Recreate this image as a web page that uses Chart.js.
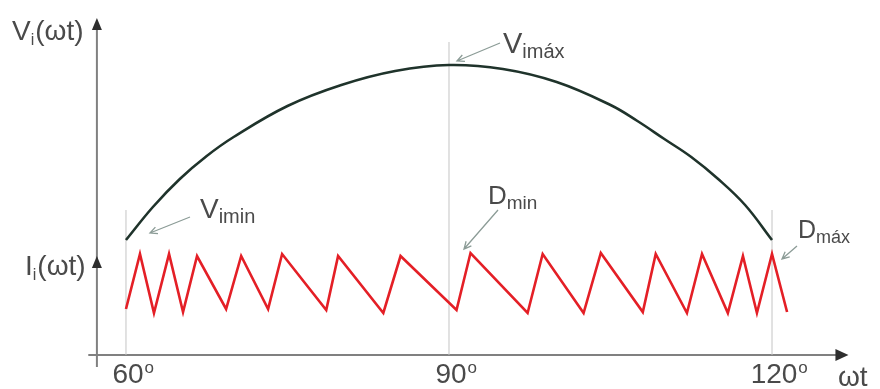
<!DOCTYPE html>
<html>
<head>
<meta charset="utf-8">
<script src="https://cdn.jsdelivr.net/npm/chart.js@4.4.1/dist/chart.umd.min.js"></script>
<style>
  html, body { margin: 0; padding: 0; background: #fff; }
  canvas { display: block; }
</style>
</head>
<body>
<canvas id="chart" width="880" height="389"></canvas>
<script>
// ωt in degrees, amplitudes in arbitrary units (0 = ωt axis)
const curveDeg = [60, 62.5, 65, 67.5, 70, 75, 80, 85, 90, 95, 100, 105, 107.5, 110, 112.5, 115, 117.5, 120];
const curveV   = [11.5, 14.8, 17.6, 19.9, 21.8, 24.9, 27.0, 28.4, 29.0, 28.6, 27.3, 25.0, 23.4, 21.6, 19.8, 17.6, 15.0, 11.5];

const sawDeg = [60, 61.3, 62.6, 64.0, 65.3, 66.6, 69.3, 70.7, 73.2, 74.5, 78.6, 79.7, 83.9, 85.5, 90.7, 92.0,
                97.3, 98.7, 102.5, 104.1, 108.0, 109.2, 112.1, 113.5, 115.9, 117.3, 118.6, 120.0, 121.4];
const sawI   = [4.6, 10.1, 4.2, 10.1, 4.3, 9.9, 4.6, 9.9, 4.6, 10.1, 4.5, 9.9, 4.2, 9.9, 4.5, 10.2,
                4.2, 10.1, 4.2, 10.2, 4.3, 10.1, 4.2, 10.1, 4.2, 9.9, 4.2, 10.1, 4.3];

const tickDeg    = [60, 90, 120];
const tickLabels = ['60', '90', '120'];
const guideTop   = [14.5, 31.3, 14.5];

const FONT = '"Liberation Sans", Arial, sans-serif';
const TEXT = '#4a4a4a';
const AXIS = '#808080';
const CALLOUT = '#8c9c97';

const pts = (xs, ys) => xs.map((x, i) => ({ x, y: ys[i] }));

const guides = tickDeg.map((d, i) => ({
  data: [{ x: d, y: 0 }, { x: d, y: guideTop[i] }],
  borderColor: '#c4c4c4',
  borderWidth: 1,
  pointRadius: 0,
  order: 3
}));

function subLabel(ctx, main, sub, rest, x, y, size, subSize) {
  ctx.font = `${size}px ${FONT}`;
  ctx.fillText(main, x, y);
  x += ctx.measureText(main).width;
  ctx.font = `${subSize}px ${FONT}`;
  ctx.fillText(sub, x, y + size * 0.18);
  x += ctx.measureText(sub).width + 1;
  if (rest) {
    ctx.font = `${size}px ${FONT}`;
    ctx.fillText(rest, x, y);
  }
}

function callout(ctx, x1, y1, x2, y2) {
  const a = Math.atan2(y2 - y1, x2 - x1);
  const h = 8;
  ctx.beginPath();
  ctx.moveTo(x1, y1);
  ctx.lineTo(x2, y2);
  ctx.moveTo(x2 - h * Math.cos(a - 0.45), y2 - h * Math.sin(a - 0.45));
  ctx.lineTo(x2, y2);
  ctx.lineTo(x2 - h * Math.cos(a + 0.45), y2 - h * Math.sin(a + 0.45));
  ctx.stroke();
}

function arrowHead(ctx, x, y, dir) {
  ctx.beginPath();
  if (dir === 'up') {
    ctx.moveTo(x, y); ctx.lineTo(x - 5, y + 12); ctx.lineTo(x + 5, y + 12);
  } else {
    ctx.moveTo(x, y); ctx.lineTo(x - 13, y - 6); ctx.lineTo(x - 13, y + 6);
  }
  ctx.closePath();
  ctx.fill();
}

const axesPlugin = {
  id: 'axes',
  beforeDatasetsDraw(chart) {
    const { ctx, scales: { x, y } } = chart;
    const x0 = x.getPixelForValue(57.3);
    const y0 = y.getPixelForValue(0);
    ctx.save();
    ctx.strokeStyle = AXIS;
    ctx.lineWidth = 2;
    ctx.beginPath();
    ctx.moveTo(x.getPixelForValue(56.5), y0);
    ctx.lineTo(x.getPixelForValue(126), y0);
    ctx.moveTo(x0, y.getPixelForValue(-1.2));
    ctx.lineTo(x0, y.getPixelForValue(32.5));
    ctx.stroke();
    ctx.fillStyle = '#2e2e2e';
    arrowHead(ctx, x0, y.getPixelForValue(33.7), 'up');
    arrowHead(ctx, x0, y.getPixelForValue(9.9), 'up');
    arrowHead(ctx, x.getPixelForValue(127.1), y0, 'right');
    ctx.restore();
  },
  afterDraw(chart) {
    const { ctx, scales: { x, y } } = chart;
    ctx.save();
    ctx.fillStyle = TEXT;
    ctx.textBaseline = 'alphabetic';

    // axis titles
    subLabel(ctx, 'V', 'i', '(ωt)', 12, 40, 28, 16);
    subLabel(ctx, 'I', 'i', '(ωt)', 25, 275, 28, 16);
    ctx.font = `28px ${FONT}`;
    ctx.fillText('ωt', 838, 386);

    // ticks
    tickDeg.forEach((d, i) => {
      ctx.font = `28px ${FONT}`;
      const w = ctx.measureText(tickLabels[i]).width;
      const left = x.getPixelForValue(d) - w / 2 + 2;
      ctx.fillText(tickLabels[i], left, 383);
      ctx.font = `17px ${FONT}`;
      ctx.fillText('o', left + w + 1, 373);
    });

    // callouts
    ctx.strokeStyle = CALLOUT;
    ctx.lineWidth = 1.3;
    callout(ctx, 500, 43, x.getPixelForValue(90) + 8, y.getPixelForValue(29.0) - 4);
    callout(ctx, 190, 217, 150, 233);
    callout(ctx, 498, 210, 464, 249);
    callout(ctx, 797, 246, 782, 259);

    ctx.fillStyle = TEXT;
    subLabel(ctx, 'V', 'imáx', null, 503, 53, 29, 20);
    subLabel(ctx, 'V', 'imin', null, 200, 218, 28, 20);
    subLabel(ctx, 'D', 'min', null, 488, 204, 26, 19);
    subLabel(ctx, 'D', 'máx', null, 798, 238, 25, 18);
    ctx.restore();
  }
};

new Chart(document.getElementById('chart'), {
  type: 'line',
  data: {
    datasets: [
      {
        data: pts(curveDeg, curveV),
        borderColor: '#1f332b',
        borderWidth: 2.6,
        pointRadius: 0,
        tension: 0.4,
        order: 1
      },
      {
        data: pts(sawDeg, sawI),
        borderColor: '#e41f26',
        borderWidth: 2.6,
        pointRadius: 0,
        tension: 0,
        borderJoinStyle: 'miter',
        order: 2
      },
      ...guides
    ]
  },
  options: {
    responsive: false,
    animation: false,
    layout: { padding: 0 },
    plugins: { legend: { display: false }, tooltip: { enabled: false } },
    scales: {
      x: { type: 'linear', min: 48.3, max: 130.03, display: false },
      y: { type: 'linear', min: -3.4, max: 35.5, display: false }
    }
  },
  plugins: [axesPlugin]
});
</script>
</body>
</html>
